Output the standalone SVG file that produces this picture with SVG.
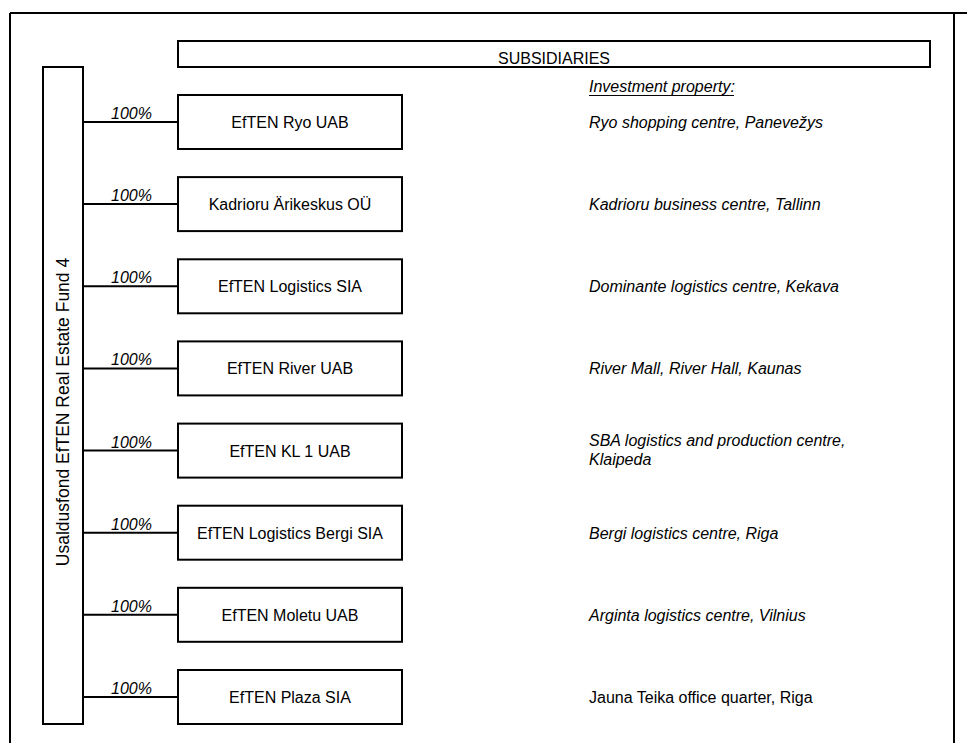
<svg xmlns="http://www.w3.org/2000/svg" width="967" height="743" viewBox="0 0 967 743">
<style>
  .box { fill: #ffffff; stroke: #000000; stroke-width: 2; }
  .line { stroke: #000000; stroke-width: 2; fill: none; }
  text { font-family: "Liberation Sans", Arial, sans-serif; font-size: 16px; fill: #000000; }
  .c { text-anchor: middle; }
  .i { font-style: italic; }
</style>
<rect x="0" y="0" width="967" height="743" fill="#ffffff"/>
<g id="frame">
  <line class="line" x1="10" y1="13" x2="967" y2="13"/>
  <line class="line" x1="10" y1="13" x2="10" y2="743"/>
  <line class="line" x1="954" y1="13" x2="954" y2="743"/>
</g>
<g id="subsidiaries">
  <rect class="box" x="178" y="41" width="752" height="26"/>
  <text class="c" x="554" y="63.5">SUBSIDIARIES</text>
</g>
<g id="fund">
  <rect class="box" x="43" y="67" width="40" height="657"/>
  <text class="c" font-size="17.5" style="font-size:17.5px" transform="translate(68.5,412) rotate(-90)">Usaldusfond EfTEN Real Estate Fund 4</text>
</g>
<g id="connectors">
  <line class="line" x1="83" y1="122" x2="178" y2="122"/>
  <line class="line" x1="83" y1="204.1" x2="178" y2="204.1"/>
  <line class="line" x1="83" y1="286.3" x2="178" y2="286.3"/>
  <line class="line" x1="83" y1="368.4" x2="178" y2="368.4"/>
  <line class="line" x1="83" y1="450.6" x2="178" y2="450.6"/>
  <line class="line" x1="83" y1="532.7" x2="178" y2="532.7"/>
  <line class="line" x1="83" y1="614.8" x2="178" y2="614.8"/>
  <line class="line" x1="83" y1="697" x2="178" y2="697"/>
  <text class="i" x="111" y="119">100%</text>
  <text class="i" x="111" y="201.1">100%</text>
  <text class="i" x="111" y="283.3">100%</text>
  <text class="i" x="111" y="365.4">100%</text>
  <text class="i" x="111" y="447.6">100%</text>
  <text class="i" x="111" y="529.7">100%</text>
  <text class="i" x="111" y="611.8">100%</text>
  <text class="i" x="111" y="694">100%</text>
</g>
<g id="property-header">
  <text class="i" x="589" y="91.5">Investment property:</text>
  <line x1="589" y1="95.5" x2="734" y2="95.5" stroke="#000" stroke-width="1"/>
</g>
<g id="node-ryo">
  <rect class="box" x="178" y="95" width="224" height="54"/>
  <text class="c" x="290" y="128">EfTEN Ryo UAB</text>
  <text class="i" x="589" y="128">Ryo shopping centre, Panevežys</text>
</g>
<g id="node-kadrioru">
  <rect class="box" x="178" y="177.1" width="224" height="54"/>
  <text class="c" x="290" y="210.1">Kadrioru Ärikeskus OÜ</text>
  <text class="i" x="589" y="210.1">Kadrioru business centre, Tallinn</text>
</g>
<g id="node-logistics">
  <rect class="box" x="178" y="259.3" width="224" height="54"/>
  <text class="c" x="290" y="292.3">EfTEN Logistics SIA</text>
  <text class="i" x="589" y="292.3">Dominante logistics centre, Kekava</text>
</g>
<g id="node-river">
  <rect class="box" x="178" y="341.4" width="224" height="54"/>
  <text class="c" x="290" y="374.4">EfTEN River UAB</text>
  <text class="i" x="589" y="374.4">River Mall, River Hall, Kaunas</text>
</g>
<g id="node-kl1">
  <rect class="box" x="178" y="423.6" width="224" height="54"/>
  <text class="c" x="290" y="456.6">EfTEN KL 1 UAB</text>
  <text class="i" x="589" y="446">SBA logistics and production centre,</text>
  <text class="i" x="589" y="465">Klaipeda</text>
</g>
<g id="node-bergi">
  <rect class="box" x="178" y="505.7" width="224" height="54"/>
  <text class="c" x="290" y="538.7">EfTEN Logistics Bergi SIA</text>
  <text class="i" x="589" y="538.7">Bergi logistics centre, Riga</text>
</g>
<g id="node-moletu">
  <rect class="box" x="178" y="587.8" width="224" height="54"/>
  <text class="c" x="290" y="620.8">EfTEN Moletu UAB</text>
  <text class="i" x="589" y="620.8">Arginta logistics centre, Vilnius</text>
</g>
<g id="node-plaza">
  <rect class="box" x="178" y="670" width="224" height="54"/>
  <text class="c" x="290" y="703">EfTEN Plaza SIA</text>
  <text x="589" y="703">Jauna Teika office quarter, Riga</text>
</g>
</svg>
